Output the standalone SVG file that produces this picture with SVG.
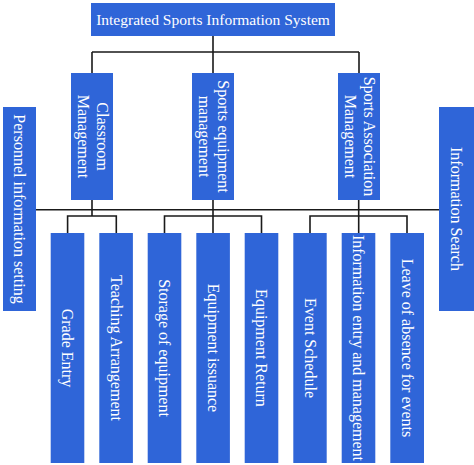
<svg xmlns="http://www.w3.org/2000/svg" width="474" height="465" viewBox="0 0 474 465">
<style>
.n{fill:#2f65d8;}
.t{fill:#ffffff;font-family:"Liberation Serif","Times New Roman",serif;font-size:16px;text-anchor:middle;}
.c{stroke:#1a1a1a;stroke-width:1.6;fill:none;}
</style>
<rect width="474" height="465" fill="#ffffff"/>
<g id="connectors" class="c">
<path d="M213 36V52M92 52H359M92 52V73M213 52V73M359 52V73"/>
<path d="M36 209.7H439"/>
<path d="M92 200V216M67.6 233V216H116.3V233"/>
<path d="M213 200V233M164.5 233V216H261.5V233"/>
<path d="M358.7 200V233M310 233V216H407V233"/>
</g>
<g id="root">
<rect class="n" x="91" y="3" width="244" height="33"/>
<text class="t" x="213" y="25" style="font-size:15.5px">Integrated Sports Information System</text>
</g>
<g id="classroom">
<rect class="n" x="71" y="73" width="42" height="127"/>
<text class="t" transform="rotate(90 92 136.5)" x="92" y="136.5"><tspan x="92" dy="-4.5">Classroom</tspan><tspan x="92" dy="19">Management</tspan></text>
</g>
<g id="equipment">
<rect class="n" x="192" y="73" width="42" height="127"/>
<text class="t" transform="rotate(90 213 136.5)" x="213" y="136.5"><tspan x="213" dy="-4.5">Sports equipment</tspan><tspan x="213" dy="19">management</tspan></text>
</g>
<g id="association">
<rect class="n" x="338" y="73" width="42" height="127"/>
<text class="t" transform="rotate(90 359 136.5)" x="359" y="136.5"><tspan x="359" dy="-4.5">Sports Association</tspan><tspan x="359" dy="19">Management</tspan></text>
</g>
<g id="personnel">
<rect class="n" x="3" y="107" width="33" height="204"/>
<text class="t" transform="rotate(90 19.5 209)" x="19.5" y="214.5">Personnel information setting</text>
</g>
<g id="search">
<rect class="n" x="439" y="107" width="35" height="204"/>
<text class="t" transform="rotate(90 456 209)" x="456" y="214.5">Information Search</text>
</g>
<g id="grade">
<rect class="n" x="50.7" y="233" width="33.6" height="230"/>
<text class="t" transform="rotate(90 67.5 348)" x="67.5" y="353.5">Grade Entry</text>
</g>
<g id="teaching">
<rect class="n" x="99.3" y="233" width="33.6" height="230"/>
<text class="t" transform="rotate(90 116.1 348)" x="116.1" y="353.5">Teaching Arrangement</text>
</g>
<g id="storage">
<rect class="n" x="147.7" y="233" width="33.6" height="230"/>
<text class="t" transform="rotate(90 164.5 348)" x="164.5" y="353.5">Storage of equipment</text>
</g>
<g id="issuance">
<rect class="n" x="196.3" y="233" width="33.6" height="230"/>
<text class="t" transform="rotate(90 213.1 348)" x="213.1" y="353.5">Equipment issuance</text>
</g>
<g id="return">
<rect class="n" x="244.7" y="233" width="33.6" height="230"/>
<text class="t" transform="rotate(90 261.5 348)" x="261.5" y="353.5">Equipment Return</text>
</g>
<g id="schedule">
<rect class="n" x="293.3" y="233" width="33.4" height="230"/>
<text class="t" transform="rotate(90 310 348)" x="310" y="353.5">Event Schedule</text>
</g>
<g id="entry">
<rect class="n" x="341.7" y="233" width="33.6" height="230"/>
<text class="t" transform="rotate(90 358.5 348)" x="358.5" y="353.5">Information entry and management</text>
</g>
<g id="leave">
<rect class="n" x="390.3" y="233" width="33.7" height="230"/>
<text class="t" transform="rotate(90 407.1 348)" x="407.1" y="353.5">Leave of absence for events</text>
</g>
</svg>
